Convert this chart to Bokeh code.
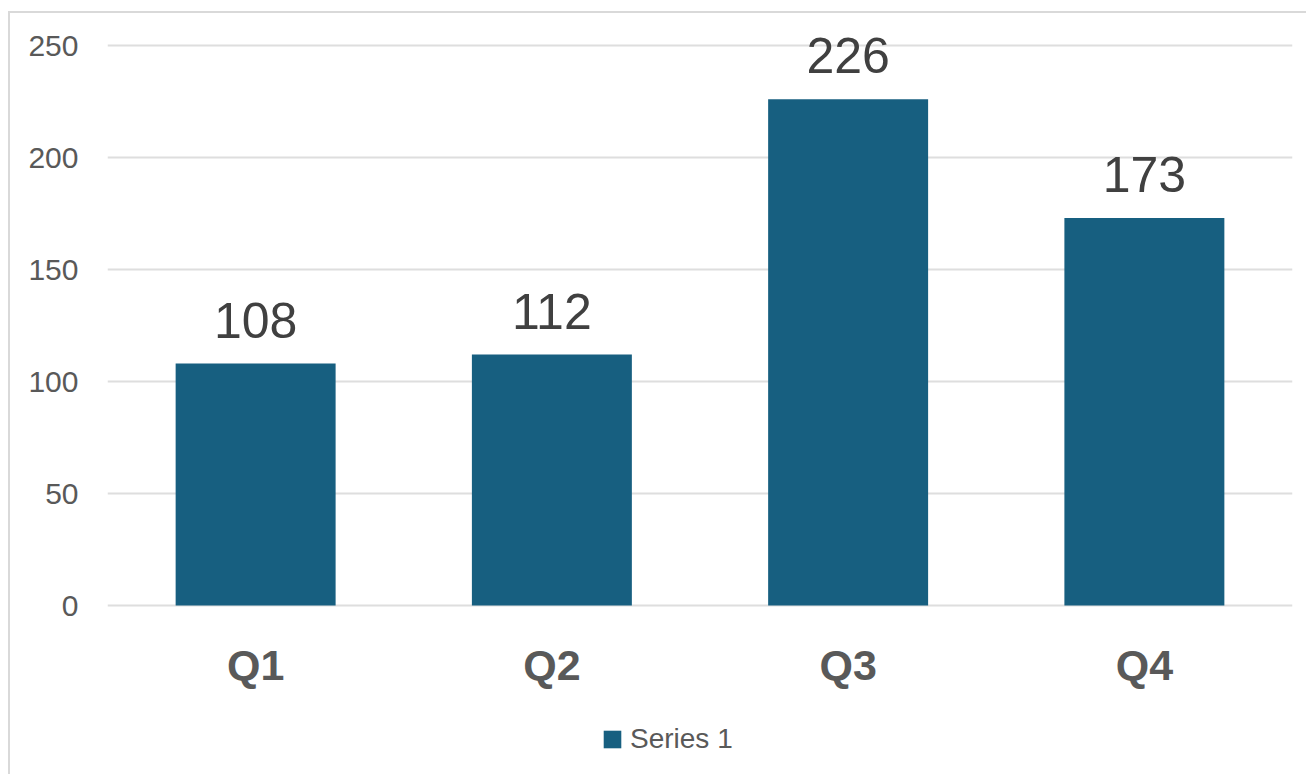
from bokeh.plotting import figure
from bokeh.models import ColumnDataSource, Legend, LegendItem, FactorRange, FixedTicker, LabelSet
from bokeh.embed import file_html
from bokeh.resources import INLINE
from bokeh.core.properties import value

quarters = ["Q1", "Q2", "Q3", "Q4"]
values = [108, 112, 226, 173]
series_name = "Series 1"
y_ticks = [0, 50, 100, 150, 200, 250]

FONT = "Liberation Sans"
BAR = "#175f80"
PX = 2.24  # pixels per unit

src = ColumnDataSource(dict(q=quarters, v=values, label=[str(v) for v in values],
                            base=[0] * len(quarters)))

p = figure(x_range=FactorRange(*quarters), y_range=(-171 / PX, 580 / PX),
           x_axis_location=None,
           width=1298, height=763, output_backend="svg", toolbar_location=None,
           min_border_left=97, min_border_right=16, min_border_top=12, min_border_bottom=0,
           styles={"border-left": "2px solid #d9d9d9", "border-top": "2px solid #d9d9d9"})
p.margin = (11, 0, 0, 8)

r = p.vbar(x="q", top="v", width=0.54, source=src, fill_color=BAR, line_color=None)
labels = LabelSet(x="q", y="v", text="label", source=src, text_align="center", text_baseline="alphabetic",
                  y_offset=26, text_font=value(FONT), text_font_size="50px", text_color="#404040")
p.add_layout(labels)

cats = LabelSet(x="q", y="base", text="q", source=src, text_align="center", text_baseline="alphabetic",
                y_offset=-74, text_font=value(FONT), text_font_size="43px", text_font_style="bold",
                text_color="#595959")
p.add_layout(cats)

p.xgrid.grid_line_color = None
p.ygrid.grid_line_color = "#dedede"
p.ygrid.grid_line_width = 2
p.yaxis.ticker = FixedTicker(ticks=y_ticks)
p.outline_line_color = None

ax = p.yaxis[0]
ax.axis_line_color = None
ax.major_tick_line_color = None
ax.minor_tick_line_color = None
ax.major_label_text_font = FONT
ax.major_label_text_color = "#595959"
ax.major_label_text_font_size = "30px"
ax.major_label_standoff = 23

legend = Legend(items=[LegendItem(label=series_name, renderers=[r])], location=(494, 21),
                glyph_width=22, glyph_height=22, label_text_font=FONT, label_text_font_size="28px",
                label_text_color="#595959", label_standoff=7, padding=0, margin=0, spacing=0,
                border_line_color=None, background_fill_alpha=0)
p.add_layout(legend, "center")

open("out.html", "w").write(file_html(p, INLINE))
